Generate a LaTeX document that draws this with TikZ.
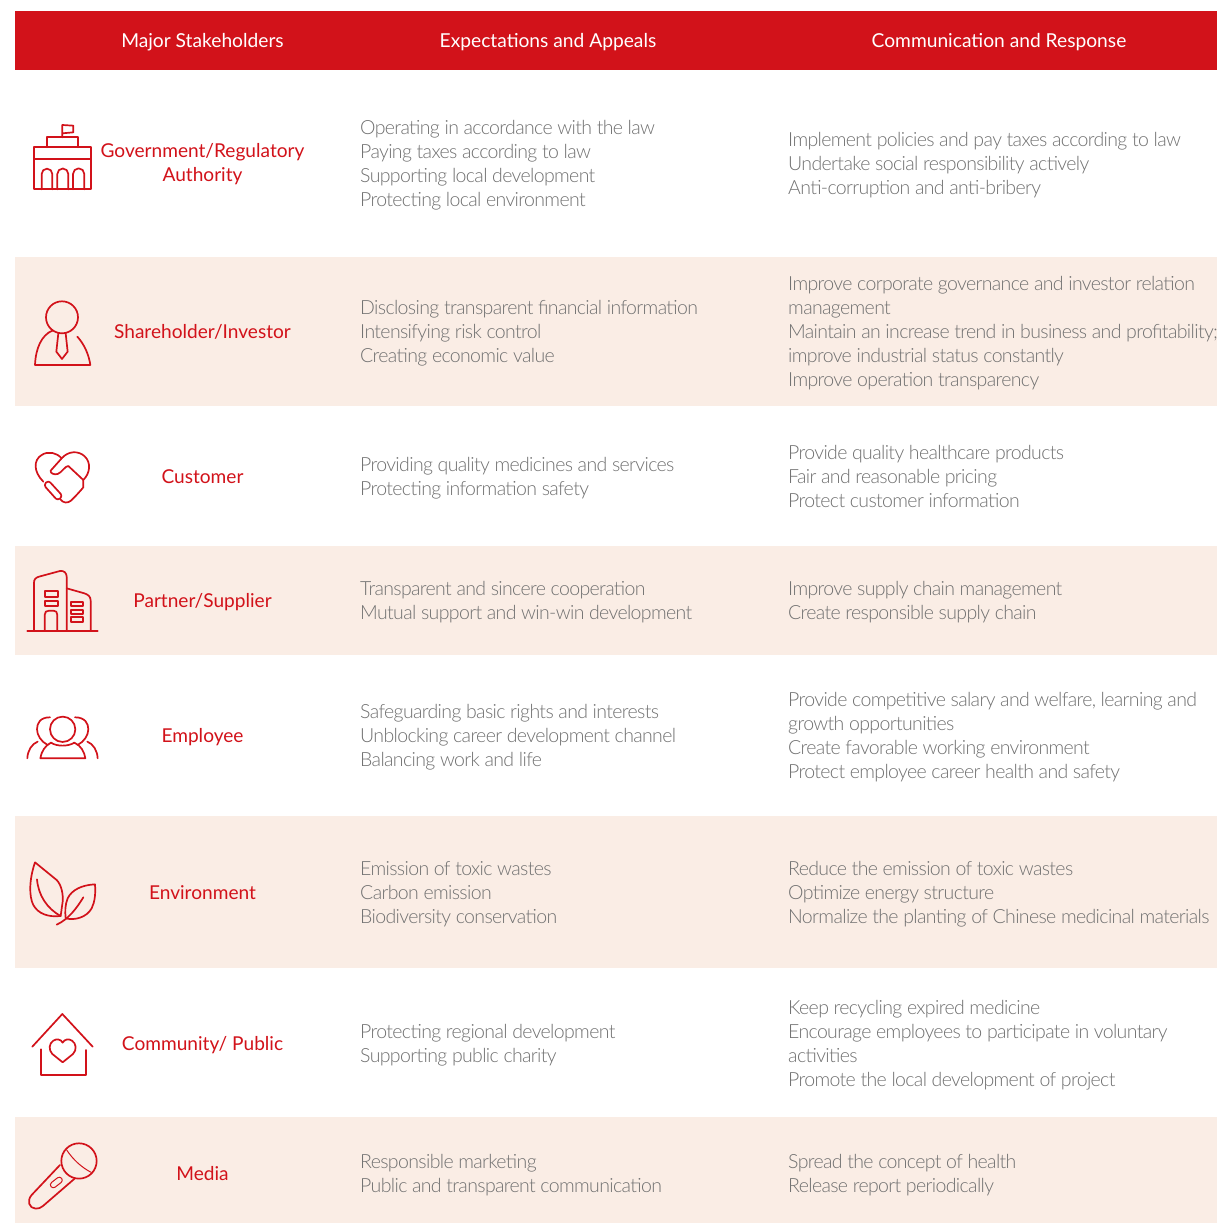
\documentclass[tikz,border=0pt]{standalone}
\usepackage{fontspec}
\setmainfont{Lato}
\newfontfamily\bodyfont[LetterSpace=-3.3]{Lato Light}
\definecolor{hdr}{HTML}{D2121A}
\definecolor{band}{HTML}{FAEDE5}
\definecolor{body}{HTML}{707070}
\tikzset{
  line/.style={inner sep=0pt,anchor=west,align=left,text=body,font=\bodyfont\fontsize{19.5}{24}\selectfont,execute at begin node=\strut,execute at end node=\strut,yshift=-3.7pt},
  who/.style={inner sep=0pt,align=center,text=hdr,font=\fontsize{19.1}{24}\selectfont,execute at begin node=\strut,execute at end node=\strut,yshift=-2.4pt},
  head/.style={inner sep=0pt,text=white,font=\fontsize{19.2}{24}\selectfont,yshift=-2pt},
  ico/.style={draw=hdr,line width=1.7pt,line cap=round,line join=round,fill=none}
}
\begin{document}
\begin{tikzpicture}[x=1pt,y=-1pt]
\useasboundingbox (0,0) rectangle (1217,1223);
\fill[white] (0,0) rectangle (1217,1223);
\fill[hdr] (15,11) rectangle (1217,70);
\fill[band] (15,257) rectangle (1217,406);
\fill[band] (15,546) rectangle (1217,655);
\fill[band] (15,816) rectangle (1217,968);
\fill[band] (15,1117) rectangle (1217,1223);
\node[head] (h1) at (202.5,40) {Major Stakeholders};
\node[head] (h2) at (548,40) {Expectations and Appeals};
\node[head] (h3) at (999,40) {Communication and Response};
\node[who] (w1) at (202.5,164) {Government/Regulatory\\Authority};
\node[who] (w2) at (202.5,331) {Shareholder/Investor};
\node[who] (w3) at (202.5,476) {Customer};
\node[who] (w4) at (202.5,600) {Partner/Supplier};
\node[who] (w5) at (202.5,735) {Employee};
\node[who] (w6) at (202.5,892) {Environment};
\node[who] (w7) at (202.5,1043) {Community/ Public};
\node[who] (w8) at (202.5,1173) {Media};
\node[line] (e1) at (360,163) {Operating in accordance with the law\\Paying taxes according to law\\Supporting local development\\Protecting local environment};
\node[line] (e2) at (360,331) {Disclosing transparent financial information\\Intensifying risk control\\Creating economic value};
\node[line] (e3) at (360,476) {Providing quality medicines and services\\Protecting information safety};
\node[line] (e4) at (360,600) {Transparent and sincere cooperation\\Mutual support and win-win development};
\node[line] (e5) at (360,735) {Safeguarding basic rights and interests\\Unblocking career development channel\\Balancing work and life};
\node[line] (e6) at (360,892) {Emission of toxic wastes\\Carbon emission\\Biodiversity conservation};
\node[line] (e7) at (360,1043) {Protecting regional development\\Supporting public charity};
\node[line] (e8) at (360,1173) {Responsible marketing\\Public and transparent communication};
\node[line] (c1) at (788,163) {Implement policies and pay taxes according to law\\Undertake social responsibility actively\\Anti-corruption and anti-bribery};
\node[line] (c2) at (788,331) {Improve corporate governance and investor relation\\management\\Maintain an increase trend in business and profitability;\\improve industrial status constantly\\Improve operation transparency};
\node[line] (c3) at (788,476) {Provide quality healthcare products\\Fair and reasonable pricing\\Protect customer information};
\node[line] (c4) at (788,600) {Improve supply chain management\\Create responsible supply chain};
\node[line] (c5) at (788,735) {Provide competitive salary and welfare, learning and\\growth opportunities\\Create favorable working environment\\Protect employee career health and safety};
\node[line] (c6) at (788,892) {Reduce the emission of toxic wastes\\Optimize energy structure\\Normalize the planting of Chinese medicinal materials};
\node[line] (c7) at (788,1043) {Keep recycling expired medicine\\Encourage employees to participate in voluntary\\activities\\Promote the local development of project};
\node[line] (c8) at (788,1173) {Spread the concept of health\\Release report periodically};
% government
\begin{scope}[shift={(15,100)},x=0.3333pt,y=-0.3333pt]
\path[ico] (57,142) rectangle (228,268);
\draw[ico] (57,177) -- (228,177);
\draw[ico] (97,142) -- (97,112) -- (190,112) -- (190,142);
\draw[ico] (142,112) -- (142,75) -- (175,77) -- (175,97) -- (142,100);
\draw[ico] (80,268) -- (80,222) arc[start angle=180,end angle=360,radius=16] -- (112,268);
\draw[ico] (127,268) -- (127,222) arc[start angle=180,end angle=360,radius=16.5] -- (160,268);
\draw[ico] (174,268) -- (174,222) arc[start angle=180,end angle=360,radius=17] -- (208,268);
% shareholder
\draw[ico] (141,652) circle[radius=48];
\draw[ico] (112,692) .. controls (80,705) and (62,745) .. (60,795) -- (226,795) .. controls (222,765) and (208,733) .. (187,710);
\draw[ico] (130,700) -- (124,755) -- (141,777) -- (158,755) -- (152,700);
\end{scope}
% customer, partner, employee
\begin{scope}[shift={(15,430)},x=0.3333pt,y=-0.3333pt]
\draw[ico] (85,155) .. controls (55,125) and (55,90) .. (80,75) .. controls (100,62) and (125,68) .. (140,85) .. controls (160,62) and (190,62) .. (208,78) .. controls (230,98) and (225,130) .. (205,150) -- (205,172) .. controls (190,190) and (180,200) .. (168,212) .. controls (158,220) and (145,220) .. (136,208);
\draw[ico] (140,85) -- (107,122) .. controls (105,130) and (118,135) .. (128,132) .. controls (140,128) and (150,108) .. (160,108) -- (205,150);
\draw[ico,rounded corners=3pt] (100,151) -- (86,165) -- (128,212) -- (143,198) -- cycle;
\draw[ico] (37,602) -- (248,602);
\draw[ico] (57,602) -- (57,458) .. controls (57,448) and (62,443) .. (72,440) -- (135,423) .. controls (148,421) and (155,430) .. (155,440) -- (155,602);
\draw[ico] (155,475) -- (208,490) .. controls (220,494) and (227,500) .. (227,512) -- (227,602);
\path[ico] (89,484) rectangle (128,500);
\path[ico] (89,512) rectangle (128,528);
\draw[ico] (89,602) -- (89,555) .. controls (89,546) and (94,542) .. (102,542) -- (115,542) .. controls (123,542) and (127,546) .. (127,555) -- (127,602);
\path[ico] (167,515) rectangle (205,529);
\path[ico] (167,539) rectangle (205,552);
\path[ico] (167,562) rectangle (205,576);
\draw[ico] (143,898) circle[radius=38];
\draw[ico] (76,985) -- (211,985) .. controls (208,965) and (198,947) .. (178,938) .. controls (160,950) and (125,950) .. (108,938) .. controls (90,947) and (79,965) .. (76,985);
\draw[ico] (105,862) .. controls (75,862) and (66,880) .. (66,898) .. controls (66,915) and (78,935) .. (98,945);
\draw[ico] (180,862) .. controls (210,862) and (220,880) .. (220,898) .. controls (220,915) and (208,935) .. (188,945);
\draw[ico] (37,985) .. controls (38,962) and (50,942) .. (68,935);
\draw[ico] (248,985) .. controls (247,962) and (235,942) .. (217,935);
\end{scope}
% environment, community, media
\begin{scope}[shift={(15,840)},x=0.3333pt,y=-0.3333pt]
\draw[ico] (60,67) -- (125,120) .. controls (140,135) and (145,165) .. (143,185) -- (137,228) .. controls (100,232) and (70,222) .. (55,195) .. controls (42,170) and (42,120) .. (60,67) -- cycle;
\draw[ico] (66,118) .. controls (70,165) and (95,205) .. (137,228);
\draw[ico] (240,133) .. controls (200,135) and (170,150) .. (158,175) .. controls (150,195) and (150,215) .. (152,235) .. controls (180,242) and (215,232) .. (230,205) .. controls (240,185) and (242,160) .. (240,133) -- cycle;
\draw[ico] (205,172) .. controls (185,205) and (160,238) .. (125,254);
\draw[ico] (52,620) -- (142,522) -- (233,620);
\draw[ico] (77,628) -- (77,705) -- (212,705) -- (212,630);
\draw[ico] (143,667) -- (112,642) .. controls (100,630) and (102,610) .. (115,602) .. controls (125,595) and (138,598) .. (143,608) .. controls (148,598) and (161,595) .. (171,602) .. controls (184,610) and (186,630) .. (174,642) -- cycle;
\draw[ico] (192,963) circle[radius=53];
\draw[ico,line width=1pt] (155,930) .. controls (175,960) and (200,982) .. (228,997);
\draw[ico] (135,975) -- (50,1065) .. controls (35,1082) and (42,1105) .. (62,1106) .. controls (70,1107) and (78,1103) .. (84,1098) -- (180,1015);
\draw[ico,line width=1pt,rounded corners=3pt] (102.5,1033) -- (134.5,1008) -- (145.5,1022) -- (113.5,1047) -- cycle;
\end{scope}
\end{tikzpicture}
\end{document}
